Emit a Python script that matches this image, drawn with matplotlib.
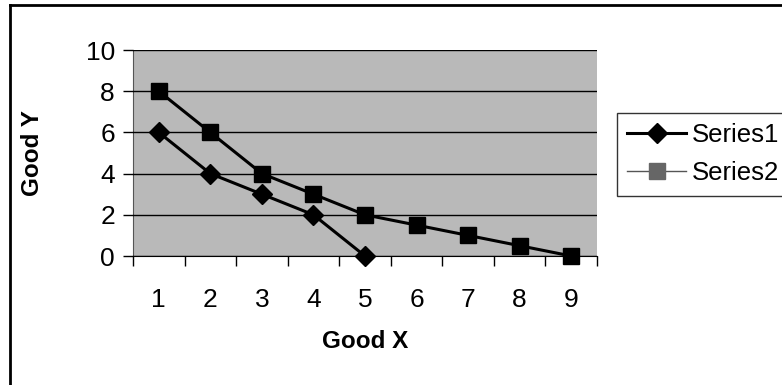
import matplotlib
matplotlib.use("Agg")
import matplotlib.pyplot as plt
from matplotlib.lines import Line2D

plt.rcParams['font.family'] = ['Liberation Sans', 'DejaVu Sans']

categories = [1, 2, 3, 4, 5, 6, 7, 8, 9]
series1 = [6, 4, 3, 2, 0]
series2 = [8, 6, 4, 3, 2, 1.5, 1, 0.5, 0]
yticks = [0, 2, 4, 6, 8, 10]

fig = plt.figure(figsize=(7.82, 3.85), dpi=100)
ax = fig.add_axes([133/782, 1-256/385, 464/782, 206/385])
ax.set_facecolor('#b9b9b9')

ax.plot(categories[:len(series1)], series1, color='black', lw=2.2, marker='D',
        markersize=10, label='Series1', clip_on=False, zorder=3)
ax.plot(categories[:len(series2)], series2, color='black', lw=2.2, marker='s',
        markersize=12, label='Series2', clip_on=False, zorder=3)

ax.set_xlim(0.5, 9.5)
ax.set_ylim(0, 10)
ax.set_yticks(yticks)
ax.set_xticks(categories)
ax.set_xticks([c - 0.5 for c in categories] + [9.5], minor=True)
ax.tick_params(axis='x', which='major', length=0, pad=23, labelsize=19)
ax.tick_params(axis='x', which='minor', length=7, direction='out', width=1)
ax.tick_params(axis='y', length=7, direction='out', width=1, pad=6, labelsize=19)
ax.yaxis.grid(True, color='black', lw=1)
ax.set_axisbelow(False)
for s in ['top', 'right']:
    ax.spines[s].set_visible(False)
ax.spines['left'].set_color('#555555')
ax.spines['bottom'].set_color('black')
ax.set_xlabel('Good X', fontsize=17.5, fontweight='bold', labelpad=13)
ax.set_ylabel('Good Y', fontsize=17.5, fontweight='bold', labelpad=30)

handles = [Line2D([], [], color='black', lw=2.2, marker='D', markersize=10),
           Line2D([], [], color='#555555', lw=1.0, marker='s', markersize=11,
                  markerfacecolor='#666666', markeredgecolor='#666666')]
leg = fig.legend(handles, ['Series1', 'Series2'], loc='upper left',
                 bbox_to_anchor=(617/782, 1-113/385), fontsize=18.5,
                 frameon=True, fancybox=False, edgecolor='black',
                 handlelength=2.3, borderpad=0.4, labelspacing=0.55,
                 handletextpad=0.2, borderaxespad=0)
leg.get_frame().set_linewidth(1.0)

# outer chart border
fig.add_artist(Line2D([10/782, 10/782], [0, 1-5/385], transform=fig.transFigure,
                      color='black', lw=2))
fig.add_artist(Line2D([10/782, 1], [1-5/385, 1-5/385], transform=fig.transFigure,
                      color='black', lw=2))

fig.savefig('out.png', dpi=100)
